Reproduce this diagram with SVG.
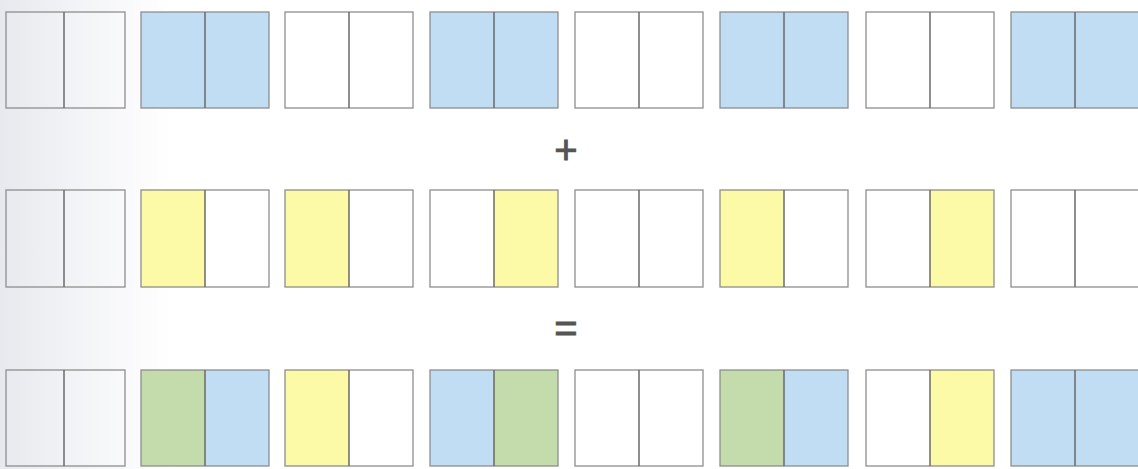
<svg xmlns="http://www.w3.org/2000/svg" width="1138" height="469" viewBox="0 0 1138 469">
<defs>
<linearGradient id="bg" x1="0" y1="0" x2="1" y2="0">
<stop offset="0" stop-color="#e8e9ee"/>
<stop offset="0.07" stop-color="#f3f4f7"/>
<stop offset="0.15" stop-color="#ffffff"/>
</linearGradient>
</defs>
<style>
.frame{fill:none;stroke:#8e8e8e;stroke-width:1.3}
.div{stroke:#6a6a6a;stroke-width:1.5}
.w{fill:none}
.b{fill:#c1ddf4}
.y{fill:#fcf9a7}
.g{fill:#c4dcab}
.op{font-family:"Liberation Sans",Arial,sans-serif;font-size:40px;fill:#555;stroke:#555;stroke-width:0.9;text-anchor:middle}
</style>
<rect x="0" y="0" width="1138" height="469" fill="url(#bg)"/>
<g id="row1">
<g id="r1b1"><rect class="w" x="6" y="12" width="58" height="96"/><rect class="w" x="64" y="12" width="61" height="96"/><rect class="frame" x="6" y="12" width="119" height="96"/><line class="div" x1="64" y1="12" x2="64" y2="108"/></g>
<g id="r1b2"><rect class="b" x="141" y="12" width="64" height="96"/><rect class="b" x="205" y="12" width="64" height="96"/><rect class="frame" x="141" y="12" width="128" height="96"/><line class="div" x1="205" y1="12" x2="205" y2="108"/></g>
<g id="r1b3"><rect class="w" x="285" y="12" width="64" height="96"/><rect class="w" x="349" y="12" width="64" height="96"/><rect class="frame" x="285" y="12" width="128" height="96"/><line class="div" x1="349" y1="12" x2="349" y2="108"/></g>
<g id="r1b4"><rect class="b" x="430" y="12" width="64" height="96"/><rect class="b" x="494" y="12" width="64" height="96"/><rect class="frame" x="430" y="12" width="128" height="96"/><line class="div" x1="494" y1="12" x2="494" y2="108"/></g>
<g id="r1b5"><rect class="w" x="575" y="12" width="64" height="96"/><rect class="w" x="639" y="12" width="64" height="96"/><rect class="frame" x="575" y="12" width="128" height="96"/><line class="div" x1="639" y1="12" x2="639" y2="108"/></g>
<g id="r1b6"><rect class="b" x="720" y="12" width="64" height="96"/><rect class="b" x="784" y="12" width="64" height="96"/><rect class="frame" x="720" y="12" width="128" height="96"/><line class="div" x1="784" y1="12" x2="784" y2="108"/></g>
<g id="r1b7"><rect class="w" x="866" y="12" width="64" height="96"/><rect class="w" x="930" y="12" width="64" height="96"/><rect class="frame" x="866" y="12" width="128" height="96"/><line class="div" x1="930" y1="12" x2="930" y2="108"/></g>
<g id="r1b8"><rect class="b" x="1011" y="12" width="64" height="96"/><rect class="b" x="1075" y="12" width="64" height="96"/><rect class="frame" x="1011" y="12" width="128" height="96"/><line class="div" x1="1075" y1="12" x2="1075" y2="108"/></g>
</g>
<g id="row2">
<g id="r2b1"><rect class="w" x="6" y="190" width="58" height="97"/><rect class="w" x="64" y="190" width="61" height="97"/><rect class="frame" x="6" y="190" width="119" height="97"/><line class="div" x1="64" y1="190" x2="64" y2="287"/></g>
<g id="r2b2"><rect class="y" x="141" y="190" width="64" height="97"/><rect class="w" x="205" y="190" width="64" height="97"/><rect class="frame" x="141" y="190" width="128" height="97"/><line class="div" x1="205" y1="190" x2="205" y2="287"/></g>
<g id="r2b3"><rect class="y" x="285" y="190" width="64" height="97"/><rect class="w" x="349" y="190" width="64" height="97"/><rect class="frame" x="285" y="190" width="128" height="97"/><line class="div" x1="349" y1="190" x2="349" y2="287"/></g>
<g id="r2b4"><rect class="w" x="430" y="190" width="64" height="97"/><rect class="y" x="494" y="190" width="64" height="97"/><rect class="frame" x="430" y="190" width="128" height="97"/><line class="div" x1="494" y1="190" x2="494" y2="287"/></g>
<g id="r2b5"><rect class="w" x="575" y="190" width="64" height="97"/><rect class="w" x="639" y="190" width="64" height="97"/><rect class="frame" x="575" y="190" width="128" height="97"/><line class="div" x1="639" y1="190" x2="639" y2="287"/></g>
<g id="r2b6"><rect class="y" x="720" y="190" width="64" height="97"/><rect class="w" x="784" y="190" width="64" height="97"/><rect class="frame" x="720" y="190" width="128" height="97"/><line class="div" x1="784" y1="190" x2="784" y2="287"/></g>
<g id="r2b7"><rect class="w" x="866" y="190" width="64" height="97"/><rect class="y" x="930" y="190" width="64" height="97"/><rect class="frame" x="866" y="190" width="128" height="97"/><line class="div" x1="930" y1="190" x2="930" y2="287"/></g>
<g id="r2b8"><rect class="w" x="1011" y="190" width="64" height="97"/><rect class="w" x="1075" y="190" width="64" height="97"/><rect class="frame" x="1011" y="190" width="128" height="97"/><line class="div" x1="1075" y1="190" x2="1075" y2="287"/></g>
</g>
<g id="row3">
<g id="r3b1"><rect class="w" x="6" y="370" width="58" height="96"/><rect class="w" x="64" y="370" width="61" height="96"/><rect class="frame" x="6" y="370" width="119" height="96"/><line class="div" x1="64" y1="370" x2="64" y2="466"/></g>
<g id="r3b2"><rect class="g" x="141" y="370" width="64" height="96"/><rect class="b" x="205" y="370" width="64" height="96"/><rect class="frame" x="141" y="370" width="128" height="96"/><line class="div" x1="205" y1="370" x2="205" y2="466"/></g>
<g id="r3b3"><rect class="y" x="285" y="370" width="64" height="96"/><rect class="w" x="349" y="370" width="64" height="96"/><rect class="frame" x="285" y="370" width="128" height="96"/><line class="div" x1="349" y1="370" x2="349" y2="466"/></g>
<g id="r3b4"><rect class="b" x="430" y="370" width="64" height="96"/><rect class="g" x="494" y="370" width="64" height="96"/><rect class="frame" x="430" y="370" width="128" height="96"/><line class="div" x1="494" y1="370" x2="494" y2="466"/></g>
<g id="r3b5"><rect class="w" x="575" y="370" width="64" height="96"/><rect class="w" x="639" y="370" width="64" height="96"/><rect class="frame" x="575" y="370" width="128" height="96"/><line class="div" x1="639" y1="370" x2="639" y2="466"/></g>
<g id="r3b6"><rect class="g" x="720" y="370" width="64" height="96"/><rect class="b" x="784" y="370" width="64" height="96"/><rect class="frame" x="720" y="370" width="128" height="96"/><line class="div" x1="784" y1="370" x2="784" y2="466"/></g>
<g id="r3b7"><rect class="w" x="866" y="370" width="64" height="96"/><rect class="y" x="930" y="370" width="64" height="96"/><rect class="frame" x="866" y="370" width="128" height="96"/><line class="div" x1="930" y1="370" x2="930" y2="466"/></g>
<g id="r3b8"><rect class="b" x="1011" y="370" width="64" height="96"/><rect class="b" x="1075" y="370" width="64" height="96"/><rect class="frame" x="1011" y="370" width="128" height="96"/><line class="div" x1="1075" y1="370" x2="1075" y2="466"/></g>
</g>
<g id="connectors"></g>
<g id="plus"><text class="op" x="566" y="164">+</text></g>
<g id="equals"><text class="op" x="566" y="342">=</text></g>
</svg>
